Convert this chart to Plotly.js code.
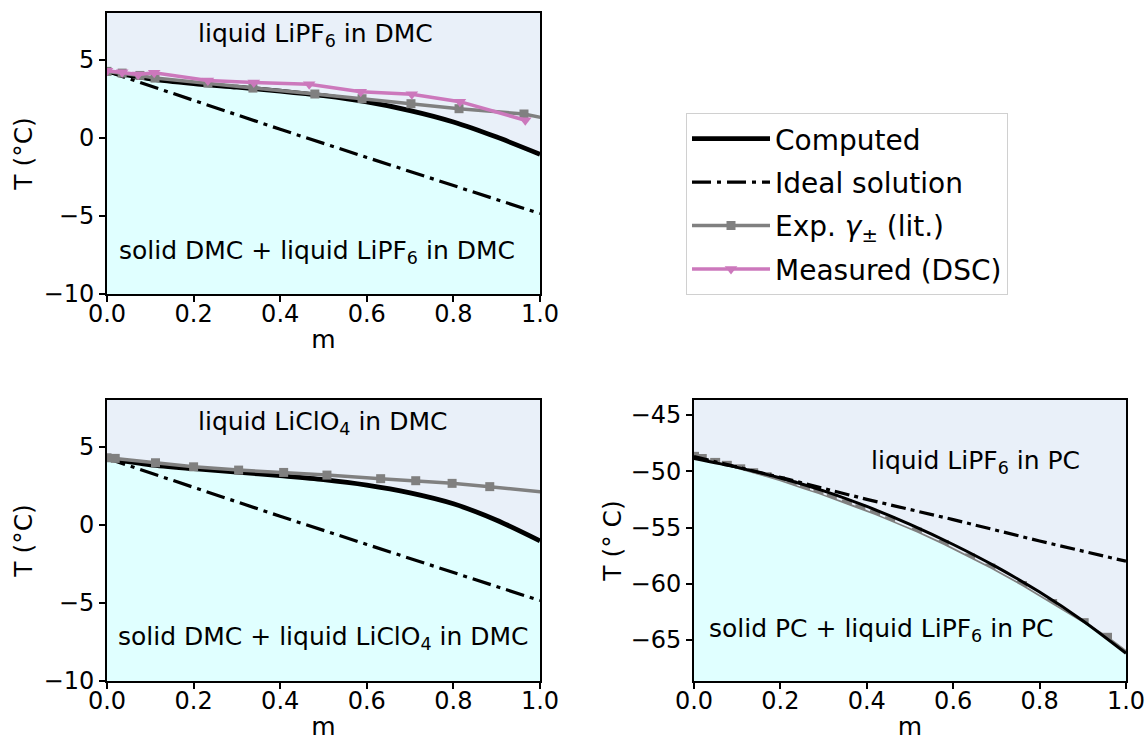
<!DOCTYPE html>
<html>
<head>
<meta charset="utf-8">
<script src="https://cdn.plot.ly/plotly-3.0.1.min.js"></script>
<style>html,body{margin:0;padding:0;background:#fff}#chart{width:1146px;height:742px}</style>
</head>
<body>
<div id="chart"></div>
<script>
// ---------- data ----------
// common m grids
const mComp = [0, 0.1, 0.2, 0.3, 0.4, 0.5, 0.6, 0.7, 0.8, 0.9, 1.0];
const mIdeal = [0, 0.2, 0.4, 0.6, 0.8, 1.0];

// Panel 1: LiPF6 in DMC
const tPf6DmcComp = [4.26, 3.78, 3.48, 3.25, 3.0, 2.7, 2.3, 1.75, 1.02, 0.05, -1.05];
const tDmcIdeal = [4.26, 2.4, 0.55, -1.25, -3.05, -4.85];
const mPf6DmcExp = [0, 0.035, 0.076, 0.111, 0.233, 0.337, 0.48, 0.589, 0.702, 0.813, 0.963, 1.1];
const tPf6DmcExp = [4.26, 4.15, 4.0, 3.83, 3.51, 3.19, 2.81, 2.51, 2.19, 1.87, 1.53, 0.75];
const mPf6DmcDsc = [0, 0.035, 0.072, 0.109, 0.233, 0.339, 0.467, 0.586, 0.704, 0.815, 0.966];
const tPf6DmcDsc = [4.3, 4.21, 4.06, 4.17, 3.67, 3.55, 3.43, 2.96, 2.79, 2.32, 1.13];

// Panel 2: LiClO4 in DMC
const tClo4DmcComp = [4.26, 3.85, 3.6, 3.38, 3.15, 2.9, 2.55, 2.05, 1.35, 0.3, -1.02];
const mClo4DmcExp = [0, 0.019, 0.112, 0.2, 0.304, 0.408, 0.508, 0.632, 0.713, 0.797, 0.884, 1.1];
const tClo4DmcExp = [4.3, 4.26, 3.98, 3.72, 3.51, 3.36, 3.19, 2.96, 2.83, 2.66, 2.45, 1.85];

// Panel 3: LiPF6 in PC
const tPf6PcComp = [-48.87, -49.66, -50.6, -51.74, -53.13, -54.72, -56.51, -58.5, -60.74, -63.28, -66.17];
const tPcIdeal = [-48.7, -50.55, -52.5, -54.3, -56.2, -58.0];
const mPf6PcExp = [0.0, 0.018, 0.049, 0.076, 0.107, 0.137, 0.168, 0.199, 0.226, 0.257, 0.288, 0.319,
  0.354, 0.385, 0.419, 0.454, 0.516, 0.578, 0.639, 0.686, 0.759, 0.829, 0.902, 0.956, 1.03];
const tPf6PcExp = [-48.72, -48.91, -49.26, -49.52, -49.83, -50.18, -50.53, -50.88, -51.25, -51.65, -52.02, -52.45,
  -52.95, -53.38, -53.9, -54.45, -55.45, -56.55, -57.75, -58.65, -60.2, -61.8, -63.5, -64.8, -66.9];

// tick values / labels
const xTicks = [0, 0.2, 0.4, 0.6, 0.8, 1.0];
const yTicksDmc = [-10, -5, 0, 5];
const yTicksPc = [-65, -60, -55, -50, -45];
const legendNames = ['Computed', 'Ideal solution', 'Exp. <i>γ</i><sub>±</sub> (lit.)', 'Measured (DSC)'];

// ---------- styles ----------
const FONT = 'DejaVu Sans, Liberation Sans, sans-serif';
const UPPER = '#e9f0f9';
const LOWER = '#e0ffff';
const GRAY = '#808080';
const PINK = '#cc78bc';
const yRangeDmc = [-10, 8];
const yRangePc = [-68.64, -43.67];

function fillBelow(xs, ys, bottom, xa, ya) {
  const n = xs.length;
  return {
    x: xs.concat([xs[n - 1], xs[0]]),
    y: ys.concat([bottom, bottom]),
    type: 'scatter', mode: 'lines', fill: 'toself', fillcolor: LOWER,
    line: {width: 0, color: LOWER}, hoverinfo: 'skip', showlegend: false,
    xaxis: xa, yaxis: ya
  };
}
function compTrace(xs, ys, xa, ya, w, leg) {
  return {x: xs, y: ys, type: 'scatter', mode: 'lines', name: legendNames[0],
    line: {color: 'black', width: w, shape: 'spline', smoothing: 0.8},
    xaxis: xa, yaxis: ya, showlegend: leg, legendgroup: 'g1'};
}
function idealTrace(xs, ys, xa, ya, dash, leg) {
  return {x: xs, y: ys, type: 'scatter', mode: 'lines', name: legendNames[1],
    line: {color: 'black', width: 3.2, dash: dash},
    xaxis: xa, yaxis: ya, showlegend: leg, legendgroup: 'g2'};
}
function expTrace(xs, ys, xa, ya, leg, msize) {
  return {x: xs, y: ys, type: 'scatter', mode: 'lines+markers', name: legendNames[2],
    line: {color: GRAY, width: 3.5}, marker: {symbol: 'square', size: msize, color: GRAY},
    cliponaxis: true, xaxis: xa, yaxis: ya, showlegend: leg, legendgroup: 'g3'};
}
function dscTrace(xs, ys, xa, ya, leg) {
  return {x: xs, y: ys, type: 'scatter', mode: 'lines+markers', name: legendNames[3],
    line: {color: PINK, width: 3.5}, marker: {symbol: 'triangle-down', size: 11, color: PINK},
    cliponaxis: true, xaxis: xa, yaxis: ya, showlegend: leg, legendgroup: 'g4'};
}

const dashDmc = '19px,6px,4px,6px';
const dashPc = '15px,5px,4px,5px';

const traces = [
  // panel 1
  fillBelow(mComp, tPf6DmcComp, yRangeDmc[0] - 2, 'x', 'y'),
  compTrace(mComp, tPf6DmcComp, 'x', 'y', 4.8, true),
  idealTrace(mIdeal, tDmcIdeal, 'x', 'y', dashDmc, true),
  expTrace(mPf6DmcExp, tPf6DmcExp, 'x', 'y', true, 9),
  dscTrace(mPf6DmcDsc, tPf6DmcDsc, 'x', 'y', true),
  // panel 2
  fillBelow(mComp, tClo4DmcComp, yRangeDmc[0] - 2, 'x2', 'y2'),
  compTrace(mComp, tClo4DmcComp, 'x2', 'y2', 4.8, false),
  idealTrace(mIdeal, tDmcIdeal, 'x2', 'y2', dashDmc, false),
  expTrace(mClo4DmcExp, tClo4DmcExp, 'x2', 'y2', false, 9),
  // panel 3
  expTrace(mPf6PcExp, tPf6PcExp, 'x3', 'y3', false, 10),
  fillBelow(mPf6PcExp, tPf6PcExp, yRangePc[0] - 2, 'x3', 'y3'),
  compTrace(mComp, tPf6PcComp, 'x3', 'y3', 3.0, false),
  idealTrace(mIdeal, tPcIdeal, 'x3', 'y3', dashPc, false)
];

const W = 1146, H = 742;
const dxL = [107 / W, 540 / W], dxR = [694 / W, 1126 / W];
const dyT = [1 - 294 / H, 1 - 13 / H], dyB = [1 - 681 / H, 1 - 400 / H];

function xAxis(dom, anchor) {
  return {domain: dom, anchor: anchor, range: [0, 1], tickvals: xTicks, tickformat: '.1f',
    showline: true, mirror: true, linecolor: 'black', linewidth: 2,
    ticks: 'outside', ticklen: 6, tickwidth: 2, tickcolor: 'black', ticklabelstandoff: -9,
    showgrid: false, zeroline: false, tickfont: {size: 24, color: 'black', family: FONT},
    title: {text: 'm', font: {size: 25, color: 'black', family: FONT}, standoff: 4}};
}
function yAxis(dom, anchor, range, ticks, label, so) {
  return {domain: dom, anchor: anchor, range: range, tickvals: ticks,
    showline: true, mirror: true, linecolor: 'black', linewidth: 2,
    ticks: 'outside', ticklen: 6, tickwidth: 2, tickcolor: 'black',
    showgrid: false, zeroline: false, tickfont: {size: 24, color: 'black', family: FONT},
    title: {text: label, font: {size: 25, color: 'black', family: FONT}, standoff: so}};
}

const annFont = {size: 25, color: 'black', family: FONT};
function ann(text, x, y, xr, yr) {
  return {text: text, x: x, y: y, xref: xr, yref: yr, showarrow: false,
    xanchor: 'center', yanchor: 'middle', font: annFont};
}

const layout = {
  width: W, height: H,
  margin: {l: 0, r: 0, t: 0, b: 0},
  paper_bgcolor: 'white', plot_bgcolor: UPPER,
  font: {family: FONT, color: 'black'},
  xaxis: xAxis(dxL, 'y'),
  yaxis: yAxis(dyT, 'x', yRangeDmc, yTicksDmc, 'T (°C)', 4),
  xaxis2: xAxis(dxL, 'y2'),
  yaxis2: yAxis(dyB, 'x2', yRangeDmc, yTicksDmc, 'T (°C)', 4),
  xaxis3: xAxis(dxR, 'y3'),
  yaxis3: yAxis(dyB, 'x3', yRangePc, yTicksPc, 'T (° C)', 2),
  showlegend: true,
  legend: {x: 686 / W, y: 1 - 113 / H, xanchor: 'left', yanchor: 'top',
    bgcolor: 'white', bordercolor: '#d0d0d0', borderwidth: 1,
    font: {size: 28, color: 'black', family: FONT},
    traceorder: 'grouped', tracegroupgap: 4, itemwidth: 78},
  annotations: [
    ann('liquid LiPF<sub>6</sub> in DMC', 0.482, 6.6, 'x', 'y'),
    ann('solid DMC + liquid LiPF<sub>6</sub> in DMC', 0.484, -7.3, 'x', 'y'),
    ann('liquid LiClO<sub>4</sub> in DMC', 0.497, 6.5, 'x2', 'y2'),
    ann('solid DMC + liquid LiClO<sub>4</sub> in DMC', 0.5, -7.22, 'x2', 'y2'),
    ann('liquid LiPF<sub>6</sub> in PC', 0.651, -49.15, 'x3', 'y3'),
    ann('solid PC + liquid LiPF<sub>6</sub> in PC', 0.432, -64.1, 'x3', 'y3')
  ]
};

Plotly.newPlot('chart', traces, layout, {displayModeBar: false, staticPlot: true});
</script>
</body>
</html>
